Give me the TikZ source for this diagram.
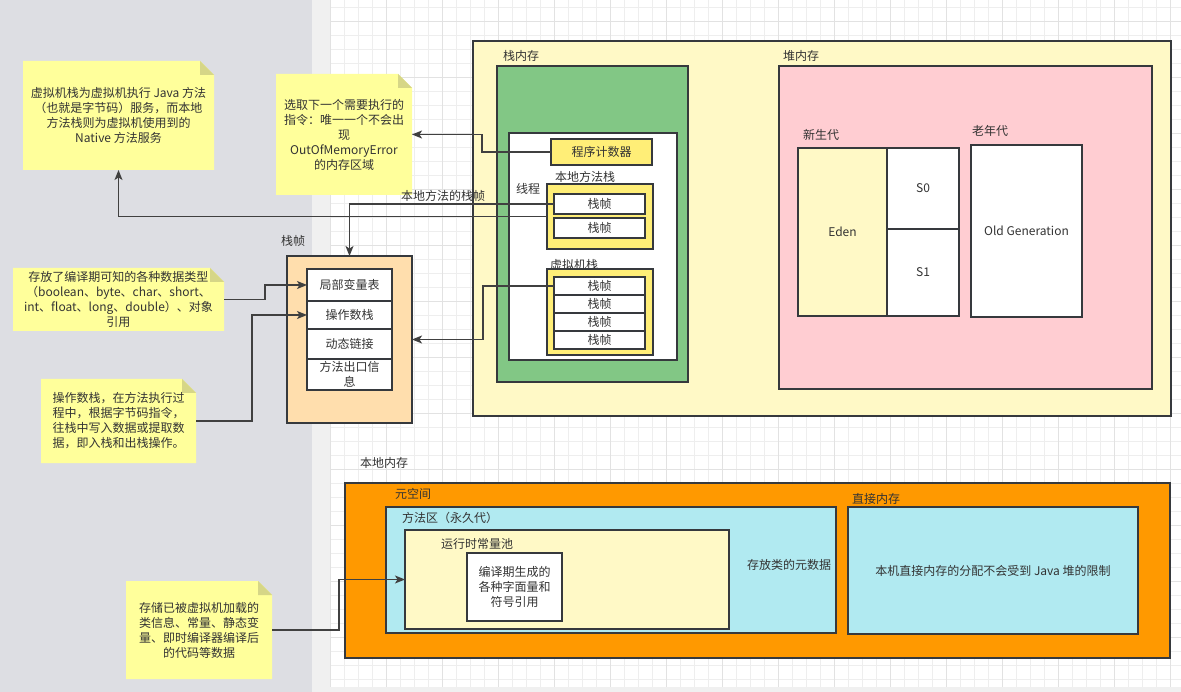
\documentclass[tikz,border=0pt]{standalone}
\usepackage{fontspec}
\setmainfont{Noto Sans CJK SC}
\usetikzlibrary{fit,arrows.meta}

\definecolor{txt}{RGB}{51,51,51}
\definecolor{edge}{RGB}{54,57,61}
\definecolor{wire}{RGB}{64,64,64}
\definecolor{sidebar}{RGB}{221,222,227}
\definecolor{strip}{RGB}{240,240,240}
\definecolor{gridminor}{RGB}{238,238,238}
\definecolor{gridmajor}{RGB}{226,226,226}
\definecolor{paleyellow}{RGB}{255,249,198}
\definecolor{brightyellow}{RGB}{255,238,119}
\definecolor{leaf}{RGB}{130,199,133}
\definecolor{blush}{RGB}{255,205,210}
\definecolor{peach}{RGB}{255,222,173}
\definecolor{amber}{RGB}{255,153,0}
\definecolor{aqua}{RGB}{177,234,241}
\definecolor{notefill}{RGB}{255,255,155}
\definecolor{foldfill}{RGB}{214,214,135}

% sticky note with a folded top-right corner; its text sits in a second node
\newcommand\stickynote[6]{%
  \fill[notefill] (#2,#3) -- (#4-14,#3) -- (#4,#3+14) -- (#4,#5) -- (#2,#5) -- cycle;
  \fill[foldfill] (#4-14,#3) -- (#4,#3+14) -- (#4-14,#3+14) -- cycle;
  \node[inner sep=0pt, outer sep=0pt, fit={(#2,#3)(#4,#5)}] (#1) {};
  \node[ctext] (#1-text) at (#1.center) {#6};
}
% outlined box spanning two corners, with centred text
\newcommand\areabox[5]{%
  \node[box, fill=#2, fit={#3}] (#1) {};
  \node[ctext] (#1-text) at (#1.center) {#5};
}

\begin{document}
\begin{tikzpicture}[x=1pt,y=-1pt,
  every node/.style={font=\fontsize{12}{15}\selectfont, text=txt},
  box/.style={draw=edge, line width=1.5pt, inner sep=0pt, outer sep=0pt},
  lbl/.style={anchor=west, inner sep=0pt},
  ctext/.style={inner sep=0pt, align=center},
  arr/.style={draw=wire, line width=1.4pt, -{Stealth[length=10pt,width=8pt,inset=2.5pt]}},
]
\useasboundingbox (0,0) rectangle (1181,692);

% canvas background
\fill[white] (0,0) rectangle (1181,692);
\fill[sidebar] (0,0) rectangle (312,692);
\fill[strip] (312,0) rectangle (330,692);
\fill[strip] (330,687) rectangle (1181,692);
\foreach \k in {0,...,60} \draw[gridminor, line width=1pt] (330.7+14*\k,0) -- (330.7+14*\k,687);
\foreach \k in {0,...,48} \draw[gridminor, line width=1pt] (330,7.3+14*\k) -- (1181,7.3+14*\k);
\foreach \k in {0,4,...,60} \draw[gridmajor, line width=1pt] (330.7+14*\k,0) -- (330.7+14*\k,687);
\foreach \k in {1,5,...,45} \draw[gridmajor, line width=1pt] (330,7.3+14*\k) -- (1181,7.3+14*\k);

% runtime memory: stack and heap
\node[box, fill=paleyellow, fit={(473,41)(1171,416)}] (mem) {};
\node[lbl] (stacklbl) at (503,56) {栈内存};
\node[lbl] (heaplbl) at (783,56) {堆内存};

\node[box, fill=leaf, fit={(497,66)(688,382)}] (stack) {};
\node[box, fill=white, fit={(509,133)(677,360)}] (thread) {};
\node[lbl] (threadlbl) at (516,189) {线程};
\areabox{pc}{brightyellow}{(551,139)(652,165)}{}{程序计数器}

\node[lbl] (nstacklbl) at (555,177) {本地方法栈};
\node[box, fill=brightyellow, fit={(547,184)(653,249)}] (nstack) {};
\areabox{nf1}{white}{(554,194)(645,214)}{}{栈帧}
\areabox{nf2}{white}{(554,218)(645,238)}{}{栈帧}

\node[lbl] (vstacklbl) at (550,265) {虚拟机栈};
\node[box, fill=brightyellow, fit={(547,269)(653,355)}] (vstack) {};
\areabox{vf1}{white}{(554,277)(645,295)}{}{栈帧}
\areabox{vf2}{white}{(554,295)(645,313)}{}{栈帧}
\areabox{vf3}{white}{(554,313)(645,331)}{}{栈帧}
\areabox{vf4}{white}{(554,331)(645,349)}{}{栈帧}

\node[box, fill=blush, fit={(779,66)(1152,389)}] (heap) {};
\node[lbl] (younglbl) at (803,135) {新生代};
\node[lbl] (oldlbl) at (972,131) {老年代};
\areabox{eden}{paleyellow}{(798,148)(887,316)}{}{Eden}
\areabox{s0}{white}{(887,148)(959,229)}{}{S0}
\areabox{s1}{white}{(887,229)(959,316)}{}{S1}
\areabox{old}{white}{(971,145)(1082,317)}{}{Old Generation}

% stack frame layout
\node[lbl] (framelbl) at (281,241) {栈帧};
\node[box, fill=peach, fit={(287,256)(412,423)}] (frame) {};
\areabox{lv}{white}{(307,269)(392,301)}{}{局部变量表}
\areabox{os}{white}{(307,301)(392,329)}{}{操作数栈}
\areabox{dl}{white}{(307,329)(392,359)}{}{动态链接}
\areabox{ret}{white}{(307,359)(392,390)}{}{方法出口信\\息}

% native memory
\node[lbl] (nativelbl) at (360,463) {本地内存};
\node[box, fill=amber, fit={(345,483)(1170,658)}] (native) {};
\node[lbl] (metalbl) at (395,494) {元空间};
\node[box, fill=aqua, fit={(386,507)(836,633)}] (method) {};
\node[lbl] (methodlbl) at (402,518) {方法区（永久代）};
\node[lbl] (classlbl) at (747,565) {存放类的元数据};
\node[box, fill=paleyellow, fit={(405,530)(729,629)}] (rcp) {};
\node[lbl] (rcplbl) at (441,544) {运行时常量池};
\areabox{sym}{white}{(467,553)(562,621)}{}{编译期生成的\\各种字面量和\\符号引用}
\node[lbl] (directlbl) at (852,499) {直接内存};
\areabox{direct}{aqua}{(848,507)(1138,634)}{}{本机直接内存的分配不会受到 Java 堆的限制}

% notes
\stickynote{n1}{23}{61}{214}{170}{虚拟机栈为虚拟机执行 Java 方法\\（也就是字节码）服务，而本地\\方法栈则为虚拟机使用到的\\Native 方法服务}
\stickynote{n2}{276}{74}{412}{195}{选取下一个需要执行的\\指令：唯一一个不会出\\现\\OutOfMemoryError\\的内存区域}
\stickynote{n3}{13}{268}{224}{331}{存放了编译期可知的各种数据类型\\（boolean、byte、char、short、\\int、float、long、double）、对象\\引用}
\stickynote{n4}{41}{379}{196}{463}{操作数栈，在方法执行过\\程中，根据字节码指令，\\往栈中写入数据或提取数\\据，即入栈和出栈操作。}
\stickynote{n5}{126}{581}{272}{679}{存储已被虚拟机加载的\\类信息、常量、静态变\\量、即时编译器编译后\\的代码等数据}

% connectors
\draw[arr] (pc.west) -| (482,143) |- (n2.east);
\draw[arr] (nf1.west) -| (frame.north);
\node (nflbl) at (443,196) {本地方法的栈帧};
\draw[arr] (nstack.west) -| (n1.south);
\draw[arr] (vf1.west) -| (483,313) |- (frame.east);
\draw[arr] (n3.east) -| (265,292) |- (lv.west);
\draw[arr] (n4.east) -| (252,370) |- (os.west);
\draw[arr] (n5.east) -| (339,600) |- (rcp.west);
\end{tikzpicture}
\end{document}
